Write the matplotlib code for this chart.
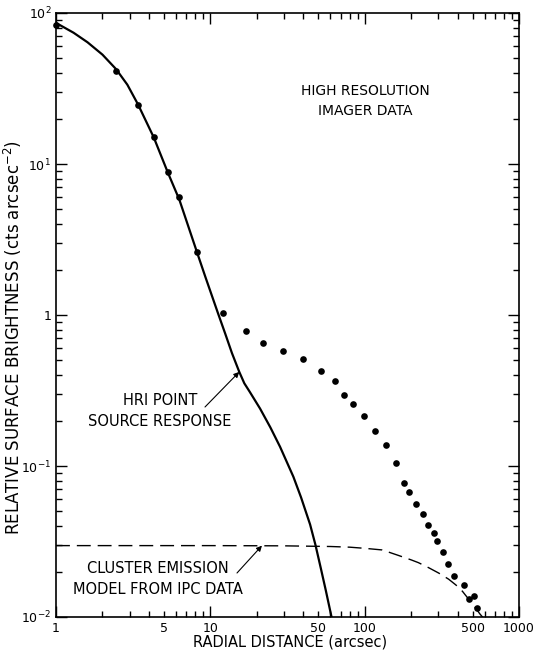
import matplotlib
matplotlib.use('Agg')
import matplotlib.pyplot as plt
from matplotlib.ticker import FixedLocator, FixedFormatter, FuncFormatter

# HRI data points (radius in arcsec, brightness)
r_data = [1.0, 2.45, 3.4, 4.3, 5.3, 6.3, 8.16, 12.1, 17.0, 22.1, 29.4, 39.7, 51.9,
          64.0, 73.5, 84.5, 98.7, 117, 138, 160, 179, 195, 216, 238, 257, 280,
          296, 320, 349, 382, 438, 475, 513, 536]
v_data = [83, 41.5, 24.6, 15.0, 8.8, 6.07, 2.6, 1.03, 0.783, 0.656, 0.580, 0.511, 0.426,
          0.367, 0.297, 0.257, 0.214, 0.170, 0.138, 0.104, 0.077, 0.067, 0.0557, 0.048,
          0.0404, 0.036, 0.032, 0.027, 0.0225, 0.0188, 0.0164, 0.0132, 0.0138, 0.0115]

# HRI point source response (solid curve)
r_psf = [1.0, 1.3, 1.6, 2.0, 2.45, 2.9, 3.4, 4.3, 5.3, 6.3, 8.2, 9.3, 11.2, 12.5, 13.8,
         15.4, 16.6, 18.0, 21.0, 24.5, 28.3, 34.5, 38.7, 44.3, 48.0, 52.0, 56.0, 61.0]
v_psf = [86, 74, 64, 53, 42.5, 33.5, 24.8, 15.0, 8.8, 5.8, 2.6, 1.78, 1.03, 0.75, 0.56,
         0.42, 0.353, 0.31, 0.24, 0.18, 0.134, 0.085, 0.062, 0.041, 0.030, 0.021, 0.015, 0.010]

# cluster emission model from IPC data (dashed curve)
r_ipc = [1, 10, 30, 60, 80, 100, 130, 165, 200, 223, 260, 303, 350, 390, 430, 467,
         510, 557, 600]
v_ipc = [0.0297, 0.0297, 0.0296, 0.0293, 0.029, 0.0285, 0.0278, 0.0256, 0.0239, 0.0229,
         0.0212, 0.0195, 0.0178, 0.0163, 0.0148, 0.0133, 0.0119, 0.0105, 0.0096]

x_major = [1, 10, 100, 1000]
x_major_labels = ['1', '10', '100', '1000']
y_major = [0.01, 0.1, 1, 10, 100]
y_major_labels = ['$10^{-2}$', '$10^{-1}$', '1', '$10^{1}$', '$10^{2}$']

H = 657  # figure height in pixels, text positions below are measured from the top

fig = plt.figure(figsize=(5.36, 6.57), dpi=100)
ax = fig.add_axes([56/536, 1-617/H, 463/536, 604/H])

ax.plot(r_psf, v_psf, color='black', lw=1.6)
ax.plot(r_ipc, v_ipc, color='black', lw=1.0, dashes=(10, 5))
ax.plot(r_data, v_data, 'o', color='black', ms=4.8, mew=0, clip_on=False, zorder=3)

ax.set_xscale('log')
ax.set_yscale('log')
ax.set_xlim(1, 1000)
ax.set_ylim(0.01, 100)

# ticks: decades major, 2..9 minor, labels also on 5, 50, 500
ax.xaxis.set_major_locator(FixedLocator(x_major))
ax.xaxis.set_major_formatter(FixedFormatter(x_major_labels))
ax.xaxis.set_minor_locator(FixedLocator([m * 10**k for k in range(3) for m in range(2, 10)]))
ax.xaxis.set_minor_formatter(FuncFormatter(lambda x, p: '%d' % round(x) if str(round(x))[0] == '5' else ''))
ax.yaxis.set_major_locator(FixedLocator(y_major))
ax.yaxis.set_major_formatter(FixedFormatter(y_major_labels))
ax.yaxis.set_minor_locator(FixedLocator([m * 10.0**k for k in range(-2, 2) for m in range(2, 10)]))
ax.yaxis.set_minor_formatter(FuncFormatter(lambda y, p: ''))

ax.tick_params(which='both', direction='in', top=True, right=True, width=1, labelsize=9)
ax.tick_params(which='major', length=8)
ax.tick_params(which='minor', length=4.5)
for s in ax.spines.values():
    s.set_linewidth(1.2)

ax.set_xlabel('RADIAL DISTANCE (arcsec)', fontsize=10.5)
ax.xaxis.set_label_coords(0.505, -0.041)
ax.xaxis.label.set_va('center')
ax.set_ylabel('RELATIVE SURFACE BRIGHTNESS (cts arcsec$^{-2}$)', fontsize=12)
ax.yaxis.set_label_coords(-0.094, 0.462)
ax.yaxis.label.set_va('center')

fig.text(365/536, 1-101/H, 'HIGH RESOLUTION\nIMAGER DATA', ha='center', va='center',
         fontsize=10, linespacing=1.5)
fig.text(160/536, 1-411/H, 'HRI POINT\nSOURCE RESPONSE', ha='center', va='center',
         fontsize=10.5, linespacing=1.5)
fig.text(158/536, 1-579/H, 'CLUSTER EMISSION\nMODEL FROM IPC DATA', ha='center', va='center',
         fontsize=10.5, linespacing=1.5)

arrow = dict(arrowstyle='-|>', lw=0.8, color='black', mutation_scale=8, shrinkA=0, shrinkB=0)
ax.annotate('', xy=(15.4, 0.42), xytext=(205, H-407), textcoords='figure pixels',
            arrowprops=arrow)
ax.annotate('', xy=(21.6, 0.0297), xytext=(237, H-573), textcoords='figure pixels',
            arrowprops=arrow)

fig.savefig('out.png', dpi=100)
